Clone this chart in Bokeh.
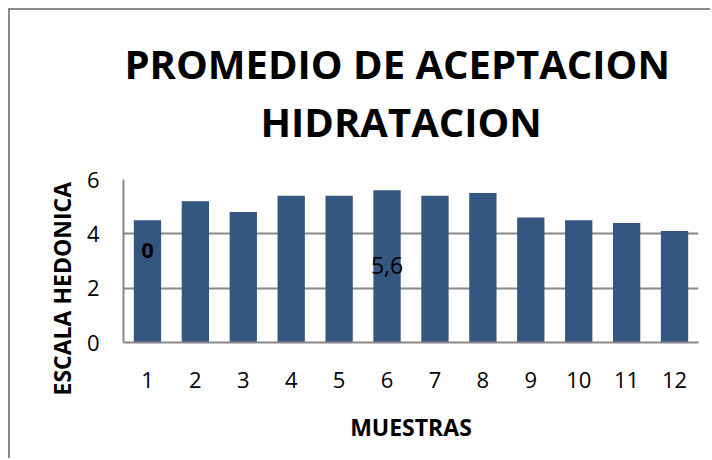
from bokeh.plotting import figure
from bokeh.models import Title, Range1d, FixedTicker, ColumnDataSource
from bokeh.core.properties import value
from bokeh.embed import file_html
from bokeh.resources import INLINE

muestras = ["1", "2", "3", "4", "5", "6", "7", "8", "9", "10", "11", "12"]
promedio = [4.5, 5.2, 4.8, 5.4, 5.4, 5.6, 5.4, 5.5, 4.6, 4.5, 4.4, 4.1]
y_ticks = [0, 2, 4, 6]

label_cats = ["1", "6"]
label_texts = ["0", "5,6"]
label_y = [3.4, 2.85]
label_styles = ["bold", "normal"]
label_sizes = ["22px", "23px"]

FONT = "Open Sans"
GRAY = "#888888"
BAR = "#335780"

p = figure(x_range=muestras, width=702, height=450, output_backend="svg",
           toolbar_location=None, min_border_left=113, min_border_right=14,
           min_border_bottom=118, min_border_top=169)
p.styles = {"margin-left": "8px", "margin-top": "8px",
            "border-left": "2px solid #8a8a8a", "border-top": "2px solid #8a8a8a"}
p.y_range = Range1d(0, 6)

src = ColumnDataSource(dict(x=muestras, top=promedio))
p.vbar(x="x", top="top", width=0.57, source=src, fill_color=BAR, line_color=None)

lsrc = ColumnDataSource(dict(x=label_cats, y=label_y, t=label_texts,
                             s=label_styles, fs=label_sizes))
p.text(x="x", y="y", text="t", source=lsrc, text_font=value(FONT),
       text_font_size="fs", text_font_style="s", text_align="center",
       text_baseline="middle", text_color="black")

p.title = None
t2 = Title(text="HIDRATACION", align="left", offset=137, text_font=FONT,
           text_font_size="40px", text_font_style="bold", text_color="black",
           standoff=61)
t1 = Title(text="PROMEDIO DE ACEPTACION", align="left", offset=1, text_font=FONT,
           text_font_size="40px", text_font_style="bold", text_color="black",
           standoff=-59)
p.add_layout(t2, "above")
p.add_layout(t1, "above")

ylab = Title(text="ESCALA HEDONICA", align="left", offset=-53, text_font=FONT,
             text_font_size="23px", text_font_style="bold", text_color="black",
             standoff=12)
p.add_layout(ylab, "left")

p.yaxis.ticker = FixedTicker(ticks=y_ticks)
p.yaxis.axis_line_color = GRAY
p.yaxis.axis_line_width = 2
p.yaxis.major_tick_line_color = None
p.yaxis.minor_tick_line_color = None
p.yaxis.major_label_text_font = FONT
p.yaxis.major_label_text_font_size = "22px"
p.yaxis.major_label_text_color = "black"
p.yaxis.major_label_standoff = 18

p.xaxis.axis_line_color = GRAY
p.xaxis.axis_line_width = 2
p.xaxis.major_tick_line_color = None
p.xaxis.minor_tick_line_color = None
p.xaxis.major_label_text_font = FONT
p.xaxis.major_label_text_font_size = "22px"
p.xaxis.major_label_text_color = "black"
p.xaxis.major_label_standoff = 23
p.xaxis.axis_label = "MUESTRAS"
p.xaxis.axis_label_text_font = FONT
p.xaxis.axis_label_text_font_size = "23px"
p.xaxis.axis_label_text_font_style = "bold"
p.xaxis.axis_label_text_color = "black"
p.xaxis.axis_label_standoff = 20

p.xgrid.grid_line_color = None
p.ygrid.grid_line_color = GRAY
p.ygrid.grid_line_width = 2
p.outline_line_color = None
p.x_range.range_padding = 0
p.x_range.group_padding = 0

open("out.html", "w").write(file_html(p, INLINE))
